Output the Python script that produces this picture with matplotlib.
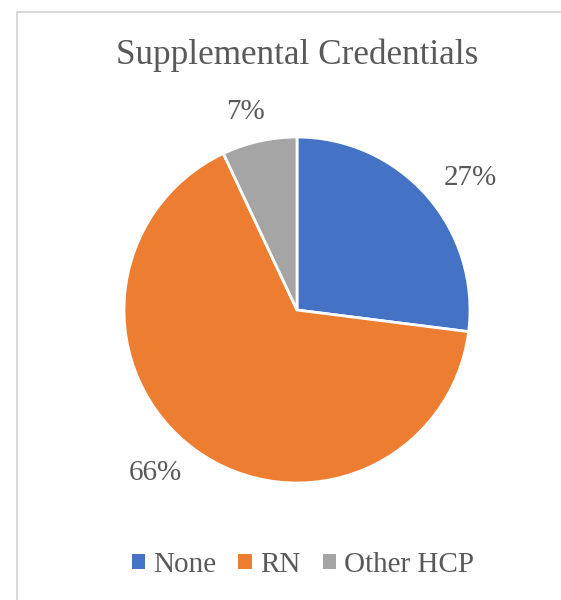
import numpy as np
import matplotlib.pyplot as plt
from matplotlib.patches import Rectangle

DPI = 100
W, H = 561, 600

labels = ['None', 'RN', 'Other HCP']
shares = [27, 66, 7]
colors = ['#4472C4', '#ED7D31', '#A5A5A5']
TEXT = '#595959'

plt.rcParams['font.family'] = ['Liberation Serif', 'DejaVu Serif']

fig = plt.figure(dpi=DPI, figsize=(W / DPI, H / DPI))

# chart frame (cut off at right/bottom like the screenshot)
fig.patches.append(Rectangle((17 / W, -0.1), 1.2, 1 - 12 / H + 0.1,
                             transform=fig.transFigure, fill=False,
                             edgecolor='#D9D9D9', linewidth=1.5))

cx, cy, r = 297, 310, 173
ax = fig.add_axes([(cx - r) / W, (H - cy - r) / H, 2 * r / W, 2 * r / H])

wedges, _, autotexts = ax.pie(
    shares, colors=colors, startangle=90, counterclock=False,
    autopct='%d%%', pctdistance=1.25,
    wedgeprops=dict(edgecolor='white', linewidth=2),
    textprops=dict(color=TEXT, fontsize=21))
ax.set_xlim(-1, 1)
ax.set_ylim(-1, 1)

# Excel's "best fit" label placement: nudge around each wedge's mid angle
nudge_deg = [-4, -5, 2]
nudge_r = [1.26, 1.25, 1.18]
for w, t, da, rr in zip(wedges, autotexts, nudge_deg, nudge_r):
    a = np.deg2rad((w.theta1 + w.theta2) / 2 + da)
    t.set_position((rr * np.cos(a), rr * np.sin(a)))

fig.text(cx / W, 1 - 55 / H, 'Supplemental Credentials', ha='center',
         va='center', fontsize=25.3, color=TEXT)

leg = fig.legend(wedges, labels, loc='center', bbox_to_anchor=(303 / W, 1 - 565 / H),
                 ncol=3, frameon=False, fontsize=21, handlelength=0.45,
                 handleheight=0.45, handletextpad=0.3, columnspacing=0.75)
for t in leg.get_texts():
    t.set_color(TEXT)
for h in leg.legend_handles:
    h.set_edgecolor('none')

fig.savefig('out.png', dpi=DPI)
